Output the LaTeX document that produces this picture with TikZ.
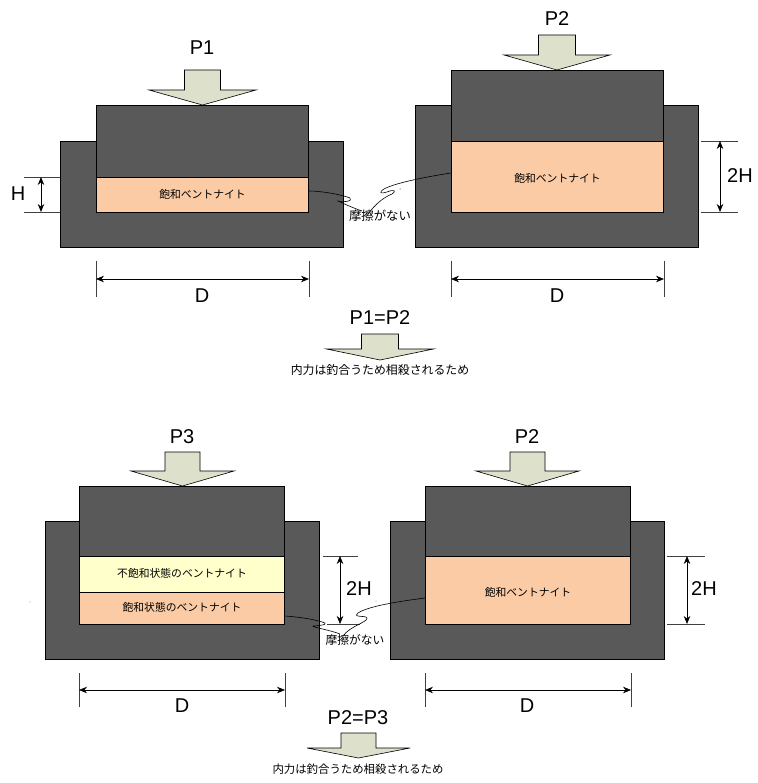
\documentclass[tikz,border=0pt]{standalone}
\usepackage{fontspec}
\setmainfont{Liberation Sans}
\newfontfamily\jpfont{Noto Sans CJK JP}
\usetikzlibrary{arrows.meta,calc}
\definecolor{darkfill}{HTML}{595959}
\definecolor{wetfill}{HTML}{FBCBA5}
\definecolor{dryfill}{HTML}{FFFFCC}
\definecolor{arrowfill}{HTML}{DDE1CC}
\tikzset{
  x=1pt,y=-1pt,
  blockbox/.style={draw=black,line width=0.8pt,inner sep=0pt,font=\jpfont\fontsize{10.8}{12}\selectfont},
  darkbox/.style={blockbox,fill=darkfill},
  wetbox/.style={blockbox,fill=wetfill},
  drybox/.style={blockbox,fill=dryfill},
  loadarrow/.style={draw=black,line width=0.6pt,fill=arrowfill},
  bigtext/.style={inner sep=0pt,font=\fontsize{20}{22}\selectfont},
  jptext/.style={inner sep=0pt,font=\jpfont\fontsize{11.4}{13}\selectfont},
  extline/.style={draw=black!75,line width=0.6pt},
  dimline/.style={draw=black,line width=0.7pt,{Stealth[length=8pt,width=6.5pt]}-{Stealth[length=8pt,width=6.5pt]}},
  squiggle/.style={draw=black,line width=0.6pt},
}
% name, x1, y1, x2, y2, style, text
\newcommand{\blockat}[7]{\node[#6,minimum width={#4-#2-0.7},minimum height={#5-#3},anchor=center] (#1) at ({(#2+#4)/2},{(#3+#5)/2}) {#7};}
% centre x, stem half width, head half width, top y, shoulder y, tip y
\newcommand{\loadat}[6]{\path[loadarrow] ({#1-#2},#4) -- ({#1+#2},#4) -- ({#1+#2},#5) -- ({#1+#3},#5) -- (#1,#6) -- ({#1-#3},#5) -- ({#1-#2},#5) -- cycle;}
\newcommand{\nudged}[2]{\raisebox{#1}[\height][\depth]{#2}}
\begin{document}
\begin{tikzpicture}
\useasboundingbox (0,0) rectangle (757,783);
\fill[white] (0,0) rectangle (757,783);

% --- top left
\blockat{outerA}{60}{141}{344}{247}{darkbox}{}
\blockat{pistonA}{96}{105}{309}{177}{darkbox}{}
\blockat{wetA}{96}{177}{309}{212}{wetbox}{飽和ベントナイト}
\node[bigtext] (pA) at (202,48) {P1};
\loadat{202.5}{18}{53.5}{70}{90}{105}
\coordinate (hA1) at (24,177); \coordinate (hA1e) at (60,177);
\coordinate (hA2) at (24,212); \coordinate (hA2e) at (60,212);
\draw[extline] (hA1) -- (hA1e);
\draw[extline] (hA2) -- (hA2e);
\coordinate (hAa) at (41,177); \coordinate (hAb) at (41,212);
\draw[dimline,line width=1pt] (hAa) -- (hAb);
\node[bigtext] (hAt) at (18,194) {H};
\coordinate (dA1) at (96,261); \coordinate (dA1e) at (96,297);
\coordinate (dA2) at (309,261); \coordinate (dA2e) at (309,297);
\draw[extline] (dA1) -- (dA1e);
\draw[extline] (dA2) -- (dA2e);
\coordinate (dAa) at (96,279); \coordinate (dAb) at (309,279);
\draw[dimline] (dAa) -- (dAb);
\node[bigtext] (dAt) at (202,296) {D};

% --- top right
\blockat{outerB}{415}{105}{699}{247}{darkbox}{}
\blockat{pistonB}{451}{70}{664}{141}{darkbox}{}
\blockat{wetB}{451}{141}{664}{212}{wetbox}{\nudged{-2pt}{飽和ベントナイト}}
\node[bigtext] (pB) at (557,19) {P2};
\loadat{557}{18.5}{53}{35}{55}{70}
\coordinate (hB1) at (701,141); \coordinate (hB1e) at (738,141);
\coordinate (hB2) at (701,212); \coordinate (hB2e) at (738,212);
\draw[extline] (hB1) -- (hB1e);
\draw[extline] (hB2) -- (hB2e);
\coordinate (hBa) at (720,141); \coordinate (hBb) at (720,212);
\draw[dimline] (hBa) -- (hBb);
\node[bigtext] (hBt) at (740,176) {2H};
\coordinate (dB1) at (451,261); \coordinate (dB1e) at (451,297);
\coordinate (dB2) at (664,261); \coordinate (dB2e) at (664,297);
\draw[extline] (dB1) -- (dB1e);
\draw[extline] (dB2) -- (dB2e);
\coordinate (dBa) at (451,279); \coordinate (dBb) at (664,279);
\draw[dimline] (dBa) -- (dBb);
\node[bigtext] (dBt) at (557,296) {D};

% --- top friction label
\node[jptext,font=\jpfont\fontsize{12.4}{14}\selectfont] (fricT) at (380,216) {摩擦がない};
\draw[squiggle] ([yshift=3.5pt]wetA.east) .. controls (322,191) and (343,195) .. (350,198)
  .. controls (354,201) and (342,203) .. (338,201) .. controls (334,199) and (350,207) .. (362,211);
\draw[squiggle] ([yshift=3.5pt]wetB.west) .. controls (425,177) and (395,183) .. (384,189)
  .. controls (378,193) and (381,194) .. (387,192) .. controls (394,189) and (397,191) .. (392,194)
  .. controls (382,198) and (374,206) .. (368,214);
\fill (400,189) circle (0.5);

% --- P1=P2
\node[bigtext] (eqT) at (380,318) {P1=P2};
\loadat{380}{18.5}{53.5}{334}{349}{360}
\node[jptext,font=\jpfont\fontsize{11.9}{13}\selectfont] (noteT) at (380,370) {内力は釣合うため相殺されるため};

% --- bottom left
\blockat{outerC}{45}{521}{320}{659}{darkbox}{}
\blockat{pistonC}{79}{486}{285}{556}{darkbox}{}
\blockat{dryC}{79}{556}{285}{592}{drybox}{\nudged{1pt}{不飽和状態のベントナイト}}
\blockat{wetC}{79}{592}{285}{624}{wetbox}{\nudged{1pt}{飽和状態のベントナイト}}
\node[bigtext] (pC) at (182,437) {P3};
\loadat{182.5}{17.5}{51.5}{452}{471}{486}
\coordinate (hC1) at (323,556); \coordinate (hC1e) at (358,556);
\coordinate (hC2) at (327,624); \coordinate (hC2e) at (360,624);
\draw[extline] (hC1) -- (hC1e);
\draw[extline] (hC2) -- (hC2e);
\coordinate (hCa) at (340,556); \coordinate (hCb) at (340,624);
\draw[dimline] (hCa) -- (hCb);
\node[bigtext] (hCt) at (359,589) {2H};
\coordinate (dC1) at (79,673); \coordinate (dC1e) at (79,707);
\coordinate (dC2) at (285,673); \coordinate (dC2e) at (285,707);
\draw[extline] (dC1) -- (dC1e);
\draw[extline] (dC2) -- (dC2e);
\coordinate (dCa) at (79,690); \coordinate (dCb) at (285,690);
\draw[dimline] (dCa) -- (dCb);
\node[bigtext] (dCt) at (182,706) {D};

% --- bottom right
\blockat{outerD}{390}{521}{665}{659}{darkbox}{}
\blockat{pistonD}{425}{486}{631}{556}{darkbox}{}
\blockat{wetD}{425}{556}{631}{624}{wetbox}{\nudged{-2pt}{飽和ベントナイト}}
\node[bigtext] (pD) at (527,437) {P2};
\loadat{527.5}{17.5}{51.5}{452}{471}{486}
\coordinate (hD1) at (667,556); \coordinate (hD1e) at (705,556);
\coordinate (hD2) at (667,624); \coordinate (hD2e) at (705,624);
\draw[extline] (hD1) -- (hD1e);
\draw[extline] (hD2) -- (hD2e);
\coordinate (hDa) at (687,556); \coordinate (hDb) at (687,624);
\draw[dimline] (hDa) -- (hDb);
\node[bigtext] (hDt) at (704,589) {2H};
\coordinate (dD1) at (425,673); \coordinate (dD1e) at (425,707);
\coordinate (dD2) at (631,673); \coordinate (dD2e) at (631,707);
\draw[extline] (dD1) -- (dD1e);
\draw[extline] (dD2) -- (dD2e);
\coordinate (dDa) at (425,690); \coordinate (dDb) at (631,690);
\draw[dimline] (dDa) -- (dDb);
\node[bigtext] (dDt) at (527,706) {D};

% --- bottom friction label
\node[jptext,font=\jpfont\fontsize{11.8}{14}\selectfont] (fricB) at (355,640) {摩擦がない};
\draw[squiggle] ([yshift=-8pt]wetC.east) .. controls (300,617) and (318,620) .. (325,623)
  .. controls (328,625) and (315,626) .. (313,626) .. controls (311,627) and (330,630) .. (340,634);
\draw[squiggle] ([yshift=-8pt]wetD.west) .. controls (410,600) and (370,605) .. (358,613)
  .. controls (352,618) and (366,615) .. (367,618) .. controls (368,622) and (350,626) .. (343,636);
\fill (376,601) circle (0.4);
\fill (30,602) circle (0.4);

% --- P2=P3
\node[bigtext] (eqB) at (358,718) {P2=P3};
\loadat{358.5}{17.5}{51.5}{733}{748}{758}
\node[jptext] (noteB) at (358,769) {内力は釣合うため相殺されるため};
\end{tikzpicture}
\end{document}
